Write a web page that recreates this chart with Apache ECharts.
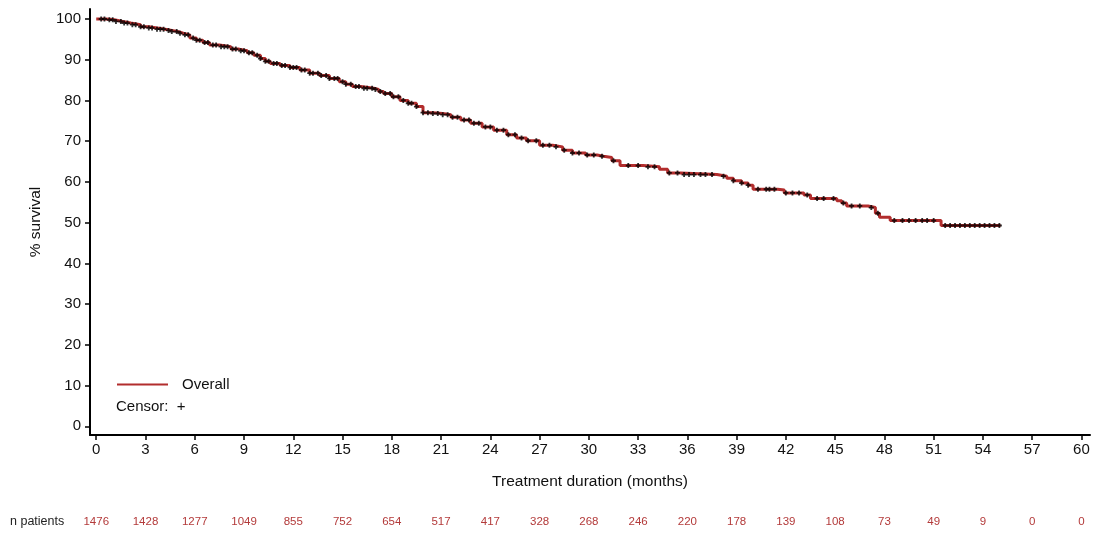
<!DOCTYPE html>
<html>
<head>
<meta charset="utf-8">
<script src="https://cdn.jsdelivr.net/npm/echarts@6/dist/echarts.min.js"></script>
<style>
html,body{margin:0;padding:0;background:#fff;}
#chart{width:1093px;height:534px;}
</style>
</head>
<body>
<div id="chart"></div>
<script>
// Kaplan-Meier event points (months, % survival)
const kmTime = [0,0.6,1.1,1.6,2.1,2.7,3.2,3.7,4.2,4.6,5.0,5.3,5.7,6.1,6.5,6.9,7.5,8.2,8.7,9.2,9.6,10.0,10.3,10.6,11.2,11.8,12.4,13.0,13.6,14.2,14.8,15.2,15.6,16.1,16.9,17.2,17.5,18.0,18.5,19.0,19.5,19.9,20.5,21.1,21.6,22.2,22.8,23.5,24.2,25.0,25.6,26.2,27.0,27.8,28.4,29.0,29.8,30.5,30.9,31.4,31.9,33.3,34.3,34.8,35.6,37.8,38.4,38.8,39.3,39.7,40.0,41.5,41.9,43.1,43.5,45.1,45.4,45.7,47.0,47.45,47.7,48.35,51.45,55.07];
const kmSurv = [100,99.8,99.4,99.0,98.6,98.1,97.8,97.5,97.2,96.9,96.5,96.1,95.3,94.8,94.2,93.6,93.2,92.6,92.2,91.7,91.1,90.3,89.6,89.1,88.6,88.1,87.5,86.7,86.1,85.4,84.6,84.0,83.4,83.0,82.7,82.2,81.7,80.9,80.0,79.3,78.5,77.0,76.8,76.5,75.9,75.2,74.4,73.5,72.7,71.6,70.8,70.1,69.0,68.6,67.8,67.1,66.6,66.3,66.0,65.2,64.0,63.7,63.1,62.2,61.8,61.4,60.9,60.3,59.7,59.2,58.2,58.0,57.3,56.8,55.9,55.4,54.8,54.1,53.7,52.3,51.3,50.5,49.3,49.3];
// Censoring times (months)
const censorTimes = [0.3,0.5,0.8,1.0,1.2,1.5,1.7,1.9,2.2,2.4,2.7,2.9,3.2,3.4,3.7,3.9,4.1,4.4,4.6,4.9,5.1,5.4,5.6,5.9,6.1,6.3,6.6,6.8,7.1,7.3,7.6,7.8,8.0,8.3,8.5,8.8,9.0,9.3,9.5,9.8,10.0,10.3,10.5,10.8,11.0,11.3,11.5,11.8,12.0,12.2,12.5,12.7,13.0,13.2,13.5,13.7,14.0,14.2,14.5,14.7,15.0,15.2,15.5,15.8,16.0,16.3,16.5,16.8,17.0,17.3,17.6,17.9,18.1,18.4,18.7,19.0,19.2,19.5,19.9,20.2,20.5,20.8,21.1,21.4,21.7,22.0,22.4,22.7,23.0,23.3,23.7,24.0,24.4,24.8,25.1,25.5,25.9,26.3,26.8,27.2,27.6,28.0,28.5,29.0,29.4,29.9,30.3,30.8,31.5,32.4,33.0,33.6,34.0,34.9,35.4,35.8,36.1,36.4,36.8,37.1,37.5,38.2,38.8,39.3,39.7,40.3,40.8,41.0,41.3,42.0,42.4,42.8,43.3,43.9,44.3,44.9,45.5,46.0,46.5,47.2,47.6,48.6,49.1,49.5,49.9,50.3,50.6,51.0,51.7,52.0,52.3,52.6,52.9,53.2,53.5,53.8,54.1,54.4,54.7,55.0];
const xTicks = [0,3,6,9,12,15,18,21,24,27,30,33,36,39,42,45,48,51,54,57,60];
const yTicks = [0,10,20,30,40,50,60,70,80,90,100];
const nAtRisk = [1476,1428,1277,1049,855,752,654,517,417,328,268,246,220,178,139,108,73,49,9,0,0];

function survAt(t){
  let v = kmSurv[0];
  for (let i = 0; i < kmTime.length; i++) { if (kmTime[i] <= t) v = kmSurv[i]; else break; }
  return v;
}
const kmData = kmTime.map((t,i)=>[t,kmSurv[i]]);
const censorData = censorTimes.map(t=>[t, survAt(t)]);

const FONT = 'Liberation Sans, Arial, sans-serif';
const chart = echarts.init(document.getElementById('chart'), null, {renderer:'canvas'});
const xMin = -0.38, xMax = 60.52;
chart.setOption({
  animation:false,
  backgroundColor:'#fff',
  textStyle:{fontFamily:FONT},
  grid:{left:90,right:3,top:9,bottom:99,containLabel:false},
  legend:{
    data:['Overall'], left:117, top:377, padding:0, icon:'rect', itemWidth:51, itemHeight:2,
    textStyle:{fontFamily:FONT,fontSize:15,color:'#111',padding:[0,0,0,9]}
  },
  graphic:[
    {type:'text',left:116,top:399,style:{text:'Censor:  +',font:'15px '+FONT,fill:'#111'}},
    {type:'text',left:10,top:515,style:{text:'n patients',font:'12.5px '+FONT,fill:'#222'}}
  ],
  xAxis:[{
    type:'value', min:xMin, max:xMax,
    name:'Treatment duration (months)', nameLocation:'middle', nameGap:39,
    nameTextStyle:{fontFamily:FONT,fontSize:15.5,color:'#111'},
    axisLine:{show:true,onZero:false,lineStyle:{color:'#000',width:2}},
    axisTick:{show:true,length:5,customValues:xTicks,lineStyle:{color:'#000',width:1.5}},
    axisLabel:{customValues:xTicks,margin:7,fontFamily:FONT,fontSize:15,color:'#111'},
    splitLine:{show:false}
  },{
    type:'value', min:xMin, max:xMax, position:'bottom', offset:79,
    axisLine:{show:false}, axisTick:{show:false}, splitLine:{show:false},
    axisLabel:{customValues:xTicks,margin:2,fontFamily:FONT,fontSize:11.5,color:'#b33a3a',
      formatter:function(v){ const i = xTicks.indexOf(Math.round(v)); return i>=0 ? String(nAtRisk[i]) : ''; }}
  }],
  yAxis:{
    type:'value', min:-2.14, max:102.45,
    name:'% survival', nameLocation:'middle', nameGap:46, nameRotate:90,
    nameTextStyle:{fontFamily:FONT,fontSize:15.5,color:'#111'},
    axisLine:{show:true,onZero:false,lineStyle:{color:'#000',width:2}},
    axisTick:{show:true,length:5,customValues:yTicks,lineStyle:{color:'#000',width:1.5}},
    axisLabel:{customValues:yTicks,margin:9,fontFamily:FONT,fontSize:15,color:'#111'},
    splitLine:{show:false}
  },
  series:[{
    name:'Overall', type:'line', step:'end', data:kmData, showSymbol:false,
    lineStyle:{color:'#b22d2d',width:3}, itemStyle:{color:'#b22d2d'}, z:2
  },{
    name:'Censor', type:'scatter', data:censorData,
    symbol:'path://M-1.1,-3H1.1V-1.1H3V1.1H1.1V3H-1.1V1.1H-3V-1.1H-1.1Z', symbolSize:5,
    itemStyle:{color:'#000'}, z:3
  }]
});
</script>
</body>
</html>
